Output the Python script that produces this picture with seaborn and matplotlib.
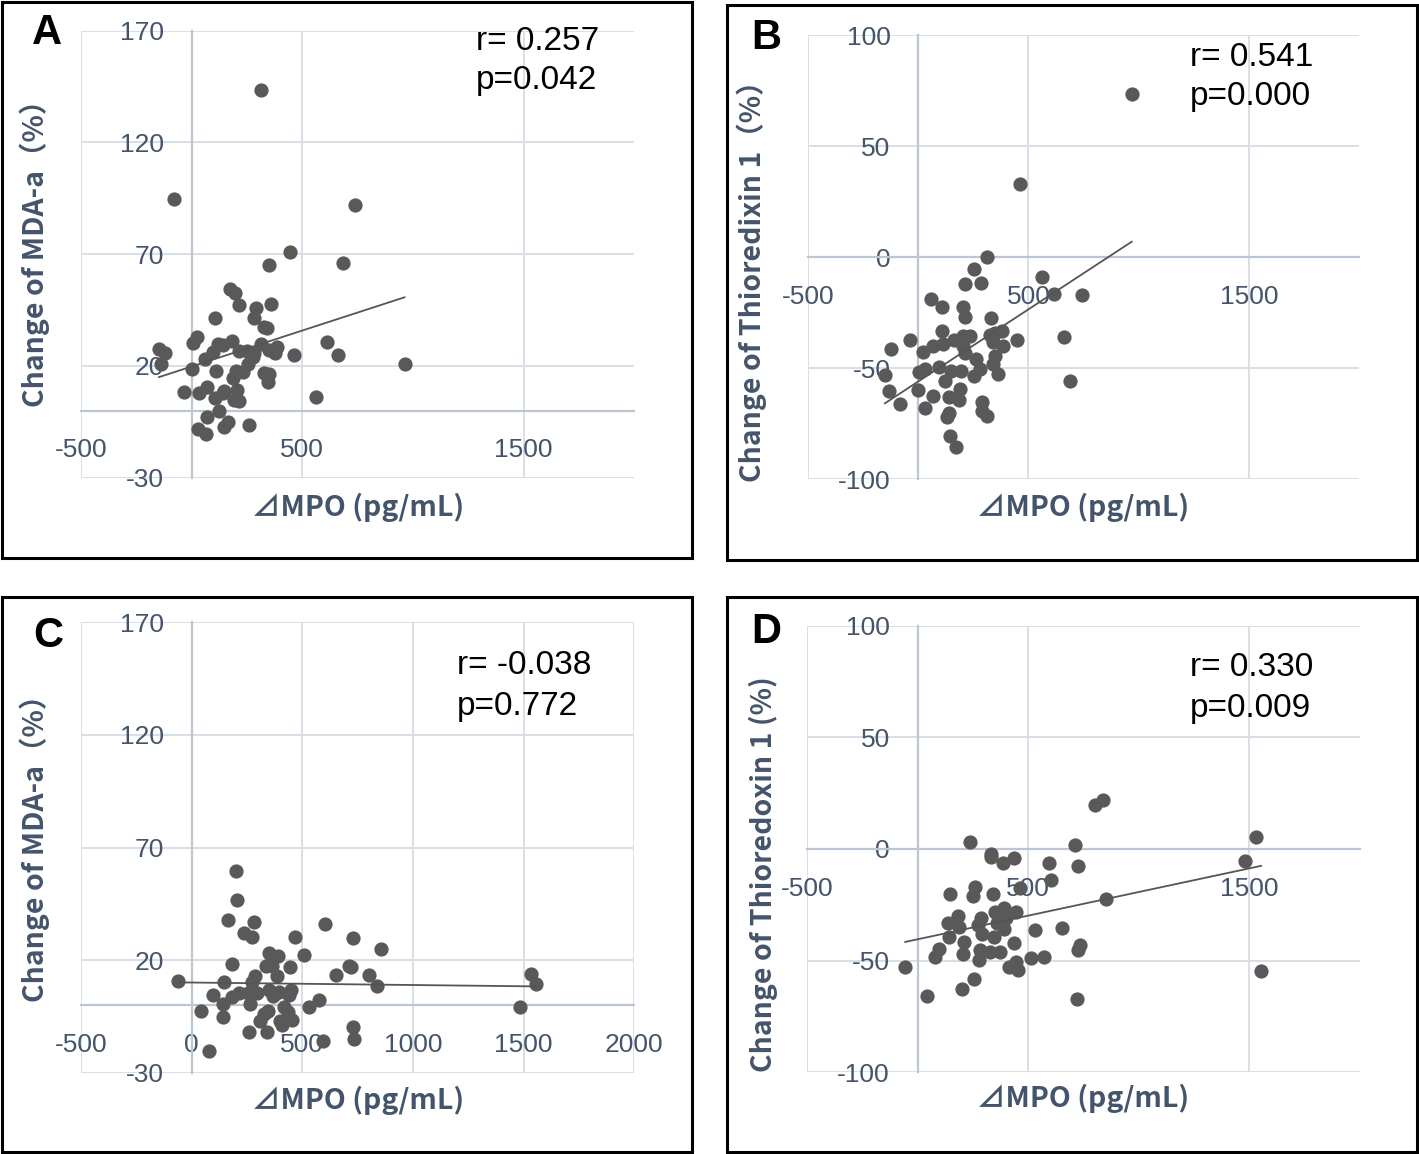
import seaborn as sns
import matplotlib.pyplot as plt
from matplotlib.patches import Rectangle
import numpy as np

# panel A: dMPO vs change of MDA-a
a_x = [312, -80, 737, 446, 348, 686, 173, 197, 212, 360, 289, 283, 107, 329, 339, 24, 5, 612,
       184, 121, 143, 313, -149, -122, 384, 348, 378, 249, 215, 283, 463, 660, 95, 62, -139, 963,
       279, 256, 3, 109, 200, 234, 327, 348, 188, 345, 68, -35, 32, 146, 203, 140, 104, 191, 215,
       561, 125, 71, 164, 146, 259, 29, 63]
a_y = [143.3, 94.8, 92.1, 70.9, 65.0, 66.2, 54.5, 52.7, 47.4, 47.7, 45.7, 41.6, 41.6, 37.5, 36.8,
       32.8, 30.1, 30.5, 31.1, 29.8, 29.4, 29.8, 27.4, 25.9, 28.6, 27.1, 25.6, 26.8, 26.8, 25.6,
       24.7, 24.7, 26.4, 22.9, 20.7, 20.9, 24.1, 20.9, 18.5, 17.9, 17.9, 17.4, 16.7, 16.4, 14.5,
       12.7, 10.4, 8.2, 7.7, 8.9, 9.2, 7.7, 5.5, 4.8, 4.3, 6.3, -0.1, -2.7, -4.9, -7.5, -6.4,
       -8.3, -10.4]

# panel B: dMPO vs change of thioredoxin 1
b_x = [970, 464, 314, 251, 212, 285, 562, 618, 741, 59, 108, 205, 212, 330, 106, -38, 164, 205,
       235, 326, 379, 348, 448, 662, -124, 24, 68, 111, 205, 212, 341, 383, 348, 261, 341, -152,
       2, 32, 94, 147, 194, 280, 255, 361, 123, 688, -133, 0, 65, 189, 141, 183, -82, 32, 289,
       289, 312, 139, 129, 144, 173]
b_y = [73.4, 32.8, 0.0, -5.2, -12.1, -11.4, -8.7, -16.5, -16.9, -18.7, -22.2, -22.5, -26.9, -27.4,
       -33.1, -37.1, -37.1, -35.3, -35.3, -35.0, -33.4, -34.1, -37.1, -35.9, -41.2, -42.7, -39.8,
       -38.9, -40.1, -43.1, -38.2, -39.8, -44.3, -45.8, -47.9, -52.8, -51.6, -50.1, -49.5, -51.3,
       -51.3, -50.3, -53.3, -52.5, -55.8, -55.5, -60.3, -59.6, -62.3, -59.3, -63.0, -64.1, -65.9,
       -68.0, -65.3, -69.3, -71.7, -70.1, -71.9, -80.5, -85.6]

# panel C
c_x = [202, 203, 163, 280, 602, 236, 273, 467, 727, 854, 348, 389, 509, 184, 334, 361, 444, 712,
       718, -60, 146, 286, 271, 384, 652, 803, 836, 1536, 1556, 1483, 95, 182, 212, 256, 294, 348,
       396, 447, 440, 369, 140, 264, 574, 530, 41, 417, 346, 328, 437, 143, 309, 399, 452, 407,
       727, 259, 340, 595, 735, 78]
c_y = [59.6, 46.6, 37.9, 37.0, 35.9, 32.0, 30.5, 30.5, 29.8, 24.8, 23.0, 22.1, 22.3, 18.2, 17.6,
       17.3, 17.1, 17.6, 17.0, 11.0, 10.5, 12.8, 10.5, 12.8, 13.4, 13.5, 8.7, 13.8, 9.3, -0.8,
       4.5, 3.5, 5.6, 5.6, 5.3, 6.8, 6.0, 6.8, 4.8, 4.1, 0.8, 0.8, 2.3, -0.8, -2.3, -0.8, -2.3,
       -3.8, -3.0, -5.3, -6.8, -6.8, -6.5, -8.6, -9.5, -11.6, -11.9, -15.8, -15.0, -20.3]

# panel D
d_x = [836, 803, 1532, 239, 711, 330, 334, 435, 384, 1480, 593, 727, 602, 462, 259, 251, 146, 339,
       851, 181, 286, 349, 392, 444, 139, 185, 271, 360, 390, 401, 530, 651, 142, 292, 345, 211,
       438, 733, 726, 95, 78, 206, 282, 327, 372, 276, 511, 572, -57, 411, 447, 452, 1554, 253,
       202, 41, 720, 372]
d_y = [21.9, 19.9, 5.5, 3.3, 1.6, -2.2, -3.7, -4.2, -6.1, -5.5, -6.4, -7.5, -13.9, -17.6, -17.2,
       -21.1, -20.3, -20.3, -22.5, -30.0, -30.8, -28.1, -26.3, -28.1, -33.0, -34.8, -34.0, -33.3,
       -36.0, -31.1, -36.3, -35.2, -39.3, -38.1, -39.3, -41.7, -42.3, -43.0, -45.2, -44.8, -48.2,
       -47.2, -45.2, -46.0, -46.0, -49.7, -49.0, -48.2, -53.0, -52.7, -50.6, -54.2, -54.6, -58.4,
       -62.6, -65.7, -67.3, -30.3]

letters = ["A", "B", "C", "D"]
stats = [["r= 0.257", "p=0.042"], ["r= 0.541", "p=0.000"],
         ["r= -0.038", "p=0.772"], ["r= 0.330", "p=0.009"]]
ylabels = ["Change of MDA-a（%）", "Change of Thioredixin 1（%）",
           "Change of MDA-a（%）", "Change of Thioredoxin 1 (%)"]
xlabel = "⊿MPO (pg/mL)"
mda_ticks = [-30, 20, 70, 120, 170]
trx_ticks = [-100, -50, 0, 50, 100]

sns.set_style('white')
plt.rcParams['font.family'] = ['Liberation Sans', 'DejaVu Sans']
plt.rcParams['axes.unicode_minus'] = False

W, H = 1419, 1154
fig = plt.figure(figsize=(W / 100, H / 100), dpi=100)

def fx(px):
    return px / W

def fy(py):
    return 1 - py / H

# boxes around panels (px)
boxes = [(2, 2, 692, 558), (727, 5, 1417, 560), (2, 597, 692, 1152), (727, 597, 1417, 1152)]
for x0, y0, x1, y1 in boxes:
    fig.patches.append(Rectangle((fx(x0), fy(y1)), fx(x1 - x0), (y1 - y0) / H,
                                 transform=fig.transFigure, fill=False,
                                 edgecolor='black', lw=2.2))

# plot areas (px): left, top, right, bottom
areas = [(81.1, 30.5, 634.1, 477.8), (808, 35.3, 1359, 479.3),
         (81.1, 622, 634.1, 1073), (807, 625.6, 1360, 1072.4)]
data = [(a_x, a_y), (b_x, b_y), (c_x, c_y), (d_x, d_y)]
yticks = [mda_ticks, trx_ticks, mda_ticks, trx_ticks]
xticks = [[-500, 500, 1500], [-500, 500, 1500],
          [-500, 0, 500, 1000, 1500, 2000], [-500, 500, 1500]]

grid_c = '#D9DEE7'
axis_c = '#BCC5D4'
text_c = '#44546A'
dot_c = '#595959'
cjk = ['Noto Sans CJK JP', 'DejaVu Sans']

for i in range(4):
    l, t, r, b = areas[i]
    ax = fig.add_axes([fx(l), fy(b), fx(r - l), (b - t) / H])
    x, y = data[i]
    sns.regplot(x=np.array(x), y=np.array(y), ax=ax, ci=None, color=dot_c,
                scatter_kws=dict(s=105, alpha=1, linewidths=0, zorder=3),
                line_kws=dict(lw=1.3, zorder=4, color='#555555'))
    ax.set_xlim(-500, 2000)
    ax.set_ylim(yticks[i][0], yticks[i][-1])
    ax.set_xticks(xticks[i])
    ax.set_yticks(yticks[i])
    ax.set_xlabel('')
    ax.set_ylabel('')
    ax.grid(True, color=grid_c, lw=1.4)
    ax.set_axisbelow(True)
    for s in ['top', 'right']:
        ax.spines[s].set_visible(False)
    ax.spines['left'].set_position(('data', 0))
    ax.spines['bottom'].set_position(('data', 0))
    for s in ['left', 'bottom']:
        ax.spines[s].set_color(axis_c)
        ax.spines[s].set_linewidth(1.6)
        ax.spines[s].set_zorder(1)
    ax.tick_params(axis='both', length=0, labelsize=19, labelcolor=text_c)
    ax.tick_params(axis='x', pad=20)
    ax.tick_params(axis='y', pad=20)
    ax.patch.set_alpha(0)

# texts
letter_pos = [(47, 33), (766, 38), (48, 636), (766, 632)]
stat_pos = [(476, 42, 81), (1190, 57, 97), (457, 666, 706), (1190, 668, 708)]
ylab_pos = [(35, 246), (752, 274), (35, 841), (763, 874)]
xlab_pos = [(358, 507), (1083, 507), (358, 1100), (1083, 1098)]

for i in range(4):
    px, py = letter_pos[i]
    fig.text(fx(px), fy(py), letters[i], fontsize=30, fontweight='bold',
             ha='center', va='center', color='black')
    sx, s1, s2 = stat_pos[i]
    fig.text(fx(sx), fy(s1), stats[i][0], fontsize=24, ha='left', va='center', color='black')
    fig.text(fx(sx), fy(s2), stats[i][1], fontsize=24, ha='left', va='center', color='black')
    lx, ly = ylab_pos[i]
    fig.text(fx(lx), fy(ly), ylabels[i], fontsize=20.5, fontweight='bold', rotation=90,
             ha='center', va='center', color=text_c, family=cjk)
    xx, xy = xlab_pos[i]
    fig.text(fx(xx), fy(xy), xlabel, fontsize=20.5, fontweight='bold',
             ha='center', va='center', color=text_c, family=cjk)

fig.savefig('out.png', dpi=100)
